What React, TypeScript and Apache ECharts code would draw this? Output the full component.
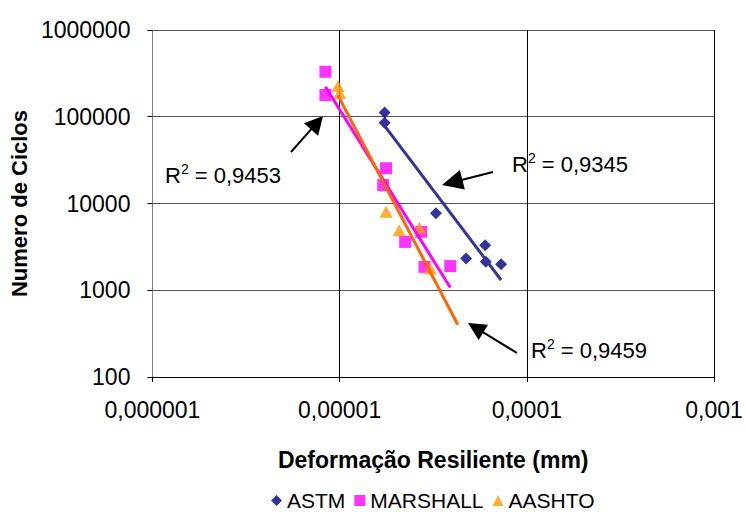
import React, { useEffect, useRef } from "react";
import * as echarts from "echarts";

// Axis ticks (decades) and their printed labels
const xTicks = [1e-6, 1e-5, 1e-4, 1e-3];
const xTickLabels = ["0,000001", "0,00001", "0,0001", "0,001"];
const yTicks = [100, 1000, 10000, 100000, 1000000];
const yTickLabels = ["100", "1000", "10000", "100000", "1000000"];

// ASTM specimens: resilient strain (mm) vs. number of cycles
const astmX = [1.74e-5, 1.74e-5, 3.27e-5, 4.74e-5, 5.99e-5, 6.04e-5, 7.29e-5];
const astmY = [112000, 85300, 7700, 2330, 3310, 2130, 1990];

// MARSHALL specimens
const marshallX = [8.4e-6, 8.4e-6, 1.77e-5, 1.71e-5, 2.73e-5, 2.24e-5, 2.84e-5, 3.9e-5];
const marshallY = [330000, 178000, 25500, 16300, 4720, 3610, 1860, 1900];

// AASHTO specimens
const aashtoX = [9.8e-6, 1.0e-5, 1.77e-5, 2.08e-5, 2.67e-5, 3.05e-5];
const aashtoY = [226000, 188000, 8020, 4930, 5250, 1780];
// the AASHTO power trendline is projected slightly past its last specimen
const aashtoTrendTo = 4.28e-5;

// Coefficients of determination printed beside each trendline
const r2Labels = ["0,9453", "0,9345", "0,9459"];

const FONT = 'Arial, "Liberation Sans", sans-serif';

// Least-squares power fit: log10(y) = a + b * log10(x)
function powerFit(xs: number[], ys: number[]) {
  const lx = xs.map((v) => Math.log10(v));
  const ly = ys.map((v) => Math.log10(v));
  const n = lx.length;
  const mx = lx.reduce((s, v) => s + v, 0) / n;
  const my = ly.reduce((s, v) => s + v, 0) / n;
  let sxy = 0;
  let sxx = 0;
  for (let i = 0; i < n; i++) {
    sxy += (lx[i] - mx) * (ly[i] - my);
    sxx += (lx[i] - mx) * (lx[i] - mx);
  }
  const b = sxy / sxx;
  return { a: my - b * mx, b };
}

function trendLine(xs: number[], ys: number[], to?: number) {
  const { a, b } = powerFit(xs, ys);
  const from = Math.min(...xs);
  const end = Math.max(to ?? 0, ...xs);
  const f = (x: number) => Math.pow(10, a + b * Math.log10(x));
  return [
    [from, f(from)],
    [end, f(end)],
  ];
}

function pairs(xs: number[], ys: number[]) {
  return xs.map((x, i) => [x, ys[i]]);
}

function tickLabel(ticks: number[], labels: string[]) {
  return (v: number) => {
    const i = ticks.findIndex((t) => Math.abs(Math.log10(t) - Math.log10(v)) < 1e-6);
    return i >= 0 ? labels[i] : "";
  };
}

// Black callout arrow: shaft plus filled triangular head
function arrow(tail: number[], tip: number[], headLen: number, headWidth: number) {
  const dx = tip[0] - tail[0];
  const dy = tip[1] - tail[1];
  const len = Math.hypot(dx, dy);
  const ux = dx / len;
  const uy = dy / len;
  const bx = tip[0] - ux * headLen;
  const by = tip[1] - uy * headLen;
  const px = -uy * (headWidth / 2);
  const py = ux * (headWidth / 2);
  return [
    {
      type: "line",
      shape: { x1: tail[0], y1: tail[1], x2: bx + ux * 2, y2: by + uy * 2 },
      style: { stroke: "#000", lineWidth: 2 },
    },
    {
      type: "polygon",
      shape: {
        points: [
          [tip[0], tip[1]],
          [bx + px, by + py],
          [bx - px, by - py],
        ],
      },
      style: { fill: "#000" },
    },
  ];
}

function r2Text(x: number, y: number, value: string) {
  return {
    type: "text",
    x,
    y,
    style: {
      text: `{r|R}{s|2}{r| = ${value}}`,
      align: "left",
      verticalAlign: "middle",
      rich: {
        r: { fontSize: 22, fontFamily: FONT, fill: "#000", lineHeight: 26 },
        s: { fontSize: 14, fontFamily: FONT, fill: "#000", lineHeight: 26, verticalAlign: "top" },
      },
    },
  };
}

export default function App() {
  const ref = useRef<HTMLDivElement>(null);

  useEffect(() => {
    if (!ref.current) return;
    const chart = echarts.init(ref.current, undefined, { renderer: "svg" });

    const option = {
      animation: false,
      backgroundColor: "#fff",
      grid: { left: 151, right: 32, top: 30, bottom: 135 },
      xAxis: {
        type: "log",
        logBase: 10,
        min: 1e-6,
        max: 1e-3,
        splitNumber: 3,
        name: "Deformação Resiliente (mm)",
        nameLocation: "middle",
        nameGap: 71,
        nameTextStyle: { fontFamily: FONT, fontSize: 23, fontWeight: "bold", color: "#000" },
        axisLine: { lineStyle: { color: "#000", width: 1 } },
        axisTick: { show: true, length: 5, lineStyle: { color: "#000" } },
        axisLabel: {
          margin: 21,
          fontFamily: FONT,
          fontSize: 23,
          color: "#000",
          formatter: tickLabel(xTicks, xTickLabels),
        },
        splitLine: { show: true, lineStyle: { color: "#000", width: 1 } },
        minorTick: { show: false },
      },
      yAxis: {
        type: "log",
        logBase: 10,
        min: 100,
        max: 1000000,
        splitNumber: 4,
        name: "Numero de Ciclos",
        nameLocation: "middle",
        nameGap: 118,
        nameTextStyle: { fontFamily: FONT, fontSize: 22, fontWeight: "bold", color: "#000" },
        axisLine: { show: true, lineStyle: { color: "#808080", width: 1 } },
        axisTick: { show: true, length: 5, lineStyle: { color: "#000" } },
        axisLabel: {
          margin: 22,
          fontFamily: FONT,
          fontSize: 23,
          color: "#000",
          formatter: tickLabel(yTicks, yTickLabels),
        },
        splitLine: { show: true, lineStyle: { color: "#555", width: 1 } },
      },
      legend: {
        data: ["ASTM", "MARSHALL", "AASHTO"],
        left: 266,
        top: 485,
        itemWidth: 11,
        itemHeight: 11,
        itemGap: 9,
        textStyle: { fontFamily: FONT, fontSize: 21, color: "#000" },
      },
      series: [
        {
          name: "ASTM",
          type: "scatter",
          symbol: "diamond",
          symbolSize: 12,
          itemStyle: { color: "#000080" },
          data: pairs(astmX, astmY),
          z: 2,
        },
        {
          name: "MARSHALL",
          type: "scatter",
          symbol: "rect",
          symbolSize: 12,
          itemStyle: { color: "#FF00FF" },
          data: pairs(marshallX, marshallY),
          z: 2,
        },
        {
          name: "AASHTO",
          type: "scatter",
          symbol: "triangle",
          symbolSize: [13, 12],
          itemStyle: { color: "#FF9900" },
          data: pairs(aashtoX, aashtoY),
          z: 2,
        },
        {
          name: "ASTM trend",
          type: "line",
          showSymbol: false,
          lineStyle: { color: "#333399", width: 3 },
          data: trendLine(astmX, astmY),
          z: 3,
        },
        {
          name: "MARSHALL trend",
          type: "line",
          showSymbol: false,
          lineStyle: { color: "#FF00FF", width: 3 },
          data: trendLine(marshallX, marshallY),
          z: 3,
        },
        {
          name: "AASHTO trend",
          type: "line",
          showSymbol: false,
          lineStyle: { color: "#FF6600", width: 3 },
          data: trendLine(aashtoX, aashtoY, aashtoTrendTo),
          z: 4,
        },
      ],
      graphic: [
        r2Text(165, 175, r2Labels[0]),
        r2Text(512, 164, r2Labels[1]),
        r2Text(531, 350, r2Labels[2]),
        ...arrow([291, 152], [323, 116], 18, 19),
        ...arrow([493, 172], [442, 185], 21, 20),
        ...arrow([517, 353], [468, 323], 18, 18),
      ],
    };

    chart.setOption(option as any);
    return () => chart.dispose();
  }, []);

  return (
    <div
      ref={ref}
      style={{ position: "absolute", left: 0, top: 0, width: 746, height: 512 }}
    />
  );
}
